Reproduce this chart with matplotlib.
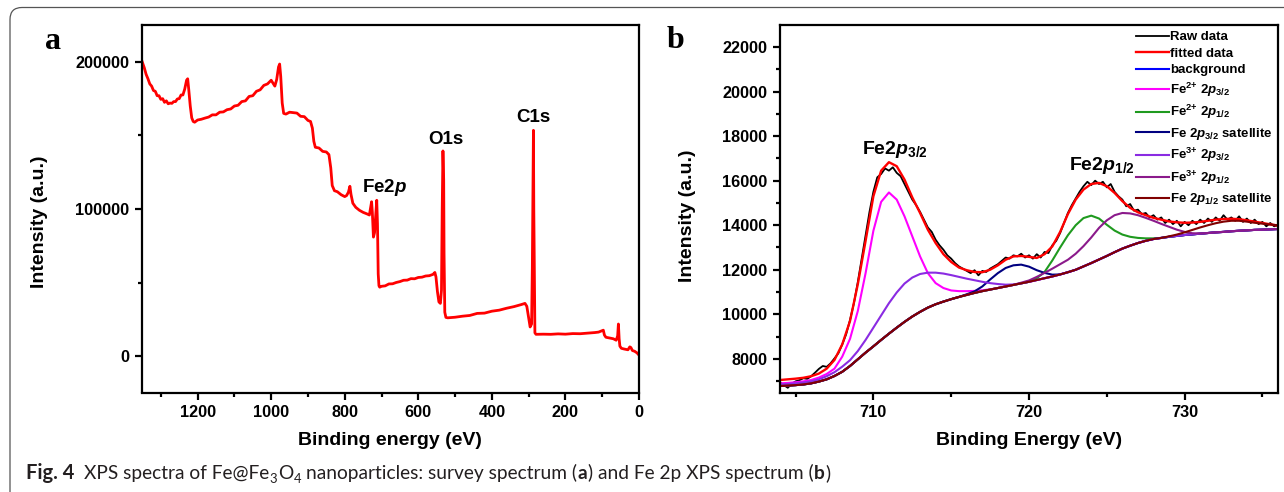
import numpy as np
import matplotlib
matplotlib.use('Agg')
import matplotlib.pyplot as plt
from matplotlib.ticker import MultipleLocator, FuncFormatter, FixedLocator
from matplotlib.patches import FancyBboxPatch

# ---------------- data: panel a (survey spectrum) ----------------
survey_energy = [1352, 1345, 1340, 1335, 1330, 1325, 1320, 1315, 1310, 1305, 1300, 1295, 1290, 1285,
                 1280, 1275, 1270, 1265, 1260, 1255, 1250, 1245, 1240, 1235, 1230, 1227, 1224, 1220,
                 1216, 1212, 1208, 1200, 1190, 1180, 1170, 1160, 1150, 1140, 1130, 1120, 1110, 1100,
                 1090, 1080, 1070, 1060, 1050, 1040, 1030, 1020, 1010, 1000, 995, 990, 985, 980, 977,
                 974, 970, 966, 960, 950, 940, 930, 920, 910, 900, 893, 888, 884, 880, 870, 860, 850,
                 843, 838, 834, 828, 820, 810, 800, 795, 790, 786, 783, 778, 770, 760, 750, 740, 733,
                 729, 727, 725, 722, 719, 716, 713, 711, 709, 707, 705, 700, 690, 680, 670, 660, 650,
                 640, 630, 620, 610, 600, 590, 580, 570, 560, 555, 552, 548, 544, 540, 537, 535, 533,
                 531, 530, 528, 525, 520, 500, 480, 460, 440, 420, 400, 380, 360, 340, 320, 310, 305,
                 300, 296, 292, 290, 288, 287, 286, 284, 283, 280, 260, 240, 220, 200, 180, 160, 140,
                 120, 110, 100, 97, 94, 90, 80, 70, 62, 58, 56, 54, 52, 48, 40, 30, 25, 22, 18, 12, 6,
                 2, 0]
survey_intensity = [201000, 196000, 191500, 188500, 185000, 183500, 180500, 180000, 177000, 177000,
                    174500, 175000, 172500, 173500, 171500, 172000, 171800, 173000, 173000, 174800,
                    175000, 177500, 177500, 181500, 187500, 188500, 181000, 170000, 162000, 159500,
                    159000, 160500, 161000, 161800, 162500, 164000, 164000, 165800, 166000, 167500,
                    168000, 170000, 170500, 173000, 173500, 176500, 177000, 180000, 181000, 184000,
                    185000, 187500, 185500, 183500, 188000, 196500, 198500, 190000, 172000, 165000,
                    164500, 165800, 165500, 165200, 163000, 162800, 160200, 159500, 155000, 146000,
                    142000, 141500, 139200, 138800, 137000, 128000, 116000, 112500, 111800, 109800,
                    108500, 109200, 111500, 115500, 110000, 104000, 101200, 99200, 97800, 96800,
                    96000, 102000, 105000, 98000, 81000, 84000, 95000, 106000, 90000, 56000, 48000,
                    47000, 47600, 47900, 49200, 49300, 50200, 50800, 51700, 51800, 52800, 52700,
                    53600, 53800, 54600, 54800, 55700, 57000, 54000, 44000, 37000, 36000, 45000,
                    100000, 139500, 120000, 70000, 30000, 26500, 26200, 26600, 27300, 27800, 29200,
                    29400, 30700, 31400, 32700, 33800, 35200, 36000, 34000, 26000, 20000, 22000,
                    60000, 120000, 153500, 100000, 40000, 16000, 15000, 15100, 15000, 15300, 15100,
                    15500, 15400, 15800, 16200, 16500, 17500, 17800, 14500, 13000, 12500, 12000,
                    11000, 14000, 22000, 12000, 7000, 5500, 5000, 4500, 6500, 6000, 4000, 3500,
                    2500, 1500, 800]
survey_labels = ['Fe2$\\mathit{p}$', 'O1s', 'C1s']
survey_label_pos = [(754, 111800), (573, 144200), (332.5, 159000)]

# ---------------- data: panel b (Fe 2p spectrum) ----------------
raw_energy = np.arange(704.0, 736.01, 0.25)
raw_intensity = [6950, 6820, 6700, 6880, 6990, 7040, 7130, 7100, 7220, 7380,
                 7550, 7680, 7640, 7800, 8020, 8250, 8650, 9100, 9750, 10500,
                 11450, 12500, 13550, 14600, 15500, 16150, 16300, 16550, 16450, 16600,
                 16350, 16200, 15850, 15500, 15150, 14900, 14600, 14250, 13900, 13700,
                 13350, 13100, 12900, 12650, 12500, 12300, 12150, 12050, 11950, 11850,
                 11980, 11750, 11950, 11900, 12050, 12150, 12250, 12400, 12550, 12500,
                 12650, 12600, 12720, 12550, 12650, 12500, 12700, 12550, 12800, 12750,
                 13100, 13300, 13650, 14100, 14550, 14900, 15200, 15500, 15750, 15950,
                 15800, 16000, 15850, 15950, 15700, 15850, 15500, 15300, 15150, 14850,
                 14950, 14650, 14700, 14500, 14550, 14350, 14450, 14250, 14350, 14100,
                 14250, 14050, 14200, 13950, 14150, 14000, 14200, 14050, 14250, 14100,
                 14300, 14150, 14350, 14200, 14450, 14250, 14350, 14200, 14400, 14150,
                 14300, 14100, 14250, 14050, 14150, 13950, 14100, 13950, 14000]

fit_energy = np.arange(704.0, 736.01, 0.5)
fitted = [7050, 7080, 7110, 7150, 7220, 7340, 7560, 7950, 8650, 9700,
          11350, 13300, 15300, 16450, 16830, 16650, 16050, 15250, 14550, 13800,
          13200, 12700, 12350, 12100, 11980, 11900, 11890, 12000, 12200, 12450,
          12600, 12620, 12580, 12530, 12700, 13050, 13700, 14500, 15150, 15600,
          15850, 15900, 15750, 15450, 15080, 14780, 14580, 14450, 14330, 14250,
          14170, 14130, 14110, 14120, 14150, 14200, 14250, 14280, 14290, 14270,
          14220, 14160, 14100, 14040, 13980]
background = [6780, 6800, 6820, 6850, 6900, 6980, 7080, 7230, 7420, 7680,
              7980, 8280, 8560, 8850, 9130, 9400, 9660, 9900, 10110, 10300,
              10450, 10570, 10680, 10780, 10870, 10960, 11040, 11110, 11180, 11250,
              11320, 11390, 11460, 11540, 11620, 11700, 11790, 11890, 12000, 12150,
              12300, 12460, 12620, 12790, 12950, 13080, 13200, 13300, 13380, 13430,
              13480, 13520, 13560, 13590, 13620, 13650, 13680, 13700, 13730, 13750,
              13770, 13790, 13800, 13815, 13830]
fe2_p32 = [6900, 6920, 6950, 6990, 7050, 7160, 7320, 7560, 8100, 8900,
           10150, 11850, 13750, 15050, 15470, 15150, 14400, 13500, 12600, 11850,
           11400, 11180, 11070, 11040, 11040, 11050, 11080, 11120, 11180, 11250,
           11320, 11390, 11460, 11540, 11620, 11700, 11790, 11890, 12000, 12150,
           12300, 12460, 12620, 12790, 12950, 13080, 13200, 13300, 13380, 13430,
           13480, 13520, 13560, 13590, 13620, 13650, 13680, 13700, 13730, 13750,
           13770, 13790, 13800, 13815, 13830]
fe2_p12 = [6780, 6800, 6820, 6850, 6900, 6980, 7080, 7230, 7420, 7680,
           7980, 8280, 8560, 8850, 9130, 9400, 9660, 9900, 10110, 10300,
           10450, 10570, 10680, 10780, 10870, 10960, 11040, 11110, 11180, 11250,
           11320, 11390, 11460, 11620, 11900, 12420, 13000, 13550, 14000, 14320,
           14430, 14300, 14020, 13760, 13580, 13480, 13430, 13410, 13410, 13430,
           13480, 13520, 13560, 13590, 13620, 13650, 13680, 13700, 13730, 13750,
           13770, 13790, 13800, 13815, 13830]
sat_p32 = [6780, 6800, 6820, 6850, 6900, 6980, 7080, 7230, 7420, 7680,
           7980, 8280, 8560, 8850, 9130, 9400, 9660, 9900, 10110, 10300,
           10450, 10570, 10680, 10780, 10900, 11030, 11250, 11560, 11850, 12080,
           12200, 12230, 12140, 11980, 11860, 11780, 11790, 11890, 12000, 12150,
           12300, 12460, 12620, 12790, 12950, 13080, 13200, 13300, 13380, 13430,
           13480, 13520, 13560, 13590, 13620, 13650, 13680, 13700, 13730, 13750,
           13770, 13790, 13800, 13815, 13830]
fe3_p32 = [6850, 6870, 6900, 6940, 6990, 7080, 7220, 7400, 7650, 7940,
           8350, 8850, 9400, 9950, 10500, 10980, 11380, 11650, 11810, 11870,
           11870, 11830, 11760, 11680, 11600, 11530, 11460, 11400, 11360, 11330,
           11340, 11390, 11460, 11540, 11620, 11700, 11790, 11890, 12000, 12150,
           12300, 12460, 12620, 12790, 12950, 13080, 13200, 13300, 13380, 13430,
           13480, 13520, 13560, 13590, 13620, 13650, 13680, 13700, 13730, 13750,
           13770, 13790, 13800, 13815, 13830]
fe3_p12 = [6780, 6800, 6820, 6850, 6900, 6980, 7080, 7230, 7420, 7680,
           7980, 8280, 8560, 8850, 9130, 9400, 9660, 9900, 10110, 10300,
           10450, 10570, 10680, 10780, 10870, 10960, 11040, 11110, 11180, 11250,
           11320, 11420, 11520, 11680, 11860, 12050, 12250, 12450, 12720, 13060,
           13450, 13880, 14220, 14450, 14550, 14530, 14450, 14330, 14200, 14060,
           13930, 13800, 13700, 13640, 13630, 13650, 13680, 13700, 13730, 13750,
           13770, 13790, 13800, 13815, 13830]
sat_p12 = [6780, 6800, 6820, 6850, 6900, 6980, 7080, 7230, 7420, 7680,
           7980, 8280, 8560, 8850, 9130, 9400, 9660, 9900, 10110, 10300,
           10450, 10570, 10680, 10780, 10870, 10960, 11040, 11110, 11180, 11250,
           11320, 11390, 11460, 11540, 11620, 11700, 11790, 11890, 12000, 12150,
           12300, 12460, 12620, 12790, 12950, 13080, 13200, 13300, 13380, 13430,
           13500, 13580, 13680, 13790, 13900, 14000, 14090, 14160, 14200, 14200,
           14160, 14110, 14070, 14030, 14000]

component_series = [fitted, background, fe2_p32, fe2_p12, sat_p32, fe3_p32, fe3_p12, sat_p12]
component_labels = ['fitted data', 'background',
                    'Fe$^{2{+}}$ 2$\\mathit{p}_{3/2}$', 'Fe$^{2{+}}$ 2$\\mathit{p}_{1/2}$',
                    'Fe 2$\\mathit{p}_{3/2}$ satellite',
                    'Fe$^{3{+}}$ 2$\\mathit{p}_{3/2}$', 'Fe$^{3{+}}$ 2$\\mathit{p}_{1/2}$',
                    'Fe 2$\\mathit{p}_{1/2}$ satellite']
component_colors = ['#ff0000', '#0000ff', '#ff00ff', '#1f9a1f', '#000080',
                    '#8a2be2', '#8b1a8b', '#800000']
peak_labels = ['Fe2$\\mathit{p}_{3/2}$', 'Fe2$\\mathit{p}_{1/2}$']
peak_label_pos = [(709.3, 17217), (722.56, 16497)]

# ---------------- style ----------------
plt.rcParams['font.family'] = ['Liberation Sans', 'DejaVu Sans']
plt.rcParams['font.weight'] = 'bold'
plt.rcParams['axes.labelweight'] = 'bold'
plt.rcParams['mathtext.fontset'] = 'custom'
plt.rcParams['mathtext.rm'] = 'Liberation Sans:bold'
plt.rcParams['mathtext.it'] = 'Liberation Sans:italic:bold'
plt.rcParams['mathtext.bf'] = 'Liberation Sans:bold'
plt.rcParams['mathtext.sf'] = 'Liberation Sans:bold'
plt.rcParams['axes.linewidth'] = 1.6

W, H = 1284, 492
fig = plt.figure(figsize=(W / 100, H / 100), dpi=100)

# outer rounded frame
frame = FancyBboxPatch((0.10, -0.5), 13.6, 4.845 + 0.5,
                       boxstyle='round,pad=0,rounding_size=0.12',
                       transform=fig.dpi_scale_trans, fill=False,
                       edgecolor='#555555', linewidth=0.9)
fig.add_artist(frame)

axa = fig.add_axes([141.7 / W, 1 - 392.5 / H, (639 - 141.7) / W, (392.5 - 25) / H])
axb = fig.add_axes([780 / W, 1 - 392.7 / H, (1278 - 780) / W, (392.7 - 25) / H])

int_fmt = FuncFormatter(lambda v, p: '%d' % int(round(v)))
for ax in (axa, axb):
    ax.tick_params(which='major', direction='out', length=5, width=1.6,
                   labelsize=11.7, pad=4, top=False, right=False)
    ax.tick_params(which='minor', direction='out', length=3, width=1.6,
                   top=False, right=False)
    ax.yaxis.set_major_formatter(int_fmt)
    ax.xaxis.set_major_formatter(int_fmt)

# ---------------- panel a ----------------
axa.plot(survey_energy, survey_intensity, color='#ff0000', lw=2.0, solid_joinstyle='round')
axa.set_xlim(1352, 0)
axa.set_ylim(-24500, 225000)
axa.xaxis.set_major_locator(FixedLocator([1200, 1000, 800, 600, 400, 200, 0]))
axa.xaxis.set_minor_locator(MultipleLocator(100))
axa.yaxis.set_major_locator(FixedLocator([0, 100000, 200000]))
axa.yaxis.set_minor_locator(MultipleLocator(50000))
for lab, (xx, yy) in zip(survey_labels, survey_label_pos):
    axa.text(xx, yy, lab, fontsize=13.5, ha='left', va='baseline')
axa.set_xlabel('Binding energy (eV)', fontsize=14, fontweight='bold')
axa.set_ylabel('Intensity (a.u.)', fontsize=14, fontweight='bold')
axa.xaxis.set_label_coords(0.5, -0.108)
axa.yaxis.set_label_coords(-0.1876, 0.464)

# ---------------- panel b ----------------
axb.plot(raw_energy, raw_intensity, color='black', lw=1.3, label='Raw data')
for ser, lab, col in zip(component_series, component_labels, component_colors):
    axb.plot(fit_energy, ser, color=col, lw=1.7 if lab == 'fitted data' else 1.5, label=lab)
axb.set_xlim(704.0, 736.0)
axb.set_ylim(6480, 22990)
axb.xaxis.set_major_locator(FixedLocator([710, 720, 730]))
axb.xaxis.set_minor_locator(MultipleLocator(5))
axb.yaxis.set_major_locator(MultipleLocator(2000))
axb.yaxis.set_minor_locator(MultipleLocator(1000))
for lab, (xx, yy) in zip(peak_labels, peak_label_pos):
    axb.text(xx, yy, lab, fontsize=14, ha='left', va='baseline')
axb.set_xlabel('Binding Energy (eV)', fontsize=14, fontweight='bold')
axb.set_ylabel('Intensity (a.u.)', fontsize=14, fontweight='bold')
axb.xaxis.set_label_coords(0.5, -0.108)
axb.yaxis.set_label_coords(-0.1687, 0.48)
axb.legend(loc='upper right', frameon=False, fontsize=9.5, handlelength=2.5,
           handletextpad=0.05, labelspacing=0.33, borderaxespad=0.25, borderpad=0.2)

# panel letters
fig.text(45 / W, 1 - 49 / H, 'a', family='Liberation Serif', fontweight='bold',
         fontsize=23, va='baseline', ha='left')
fig.text(667 / W, 1 - 48.5 / H, 'b', family='Liberation Serif', fontweight='bold',
         fontsize=23, va='baseline', ha='left')

# ---------------- caption ----------------
renderer = fig.canvas.get_renderer()
cap_family = ['Lato', 'Open Sans', 'DejaVu Sans']
cap_size = 13.8
cap_base = 479
cap_color = '#231f20'


def measure(s, size, weight):
    t = fig.text(0, 0, s, fontsize=size, fontweight=weight, family=cap_family)
    w = t.get_window_extent(renderer).width
    t.remove()
    return w


space_w = measure('x x', cap_size, 'normal') - measure('xx', cap_size, 'normal')


def put(s, x, size=cap_size, weight='normal', dy=0.0):
    t = fig.text(x / W, 1 - (cap_base + dy) / H, s, fontsize=size, fontweight=weight,
                 family=cap_family, va='baseline', ha='left', color=cap_color)
    return t.get_window_extent(renderer).x1


x = 26
x = put('Fig. 4', x, size=cap_size * 1.05, weight='bold') + 2 * space_w
x = put('XPS spectra of Fe@Fe', x) + 0.5
x = put('3', x, size=cap_size * 0.68, dy=4) + 0.5
x = put('O', x) + 0.5
x = put('4', x, size=cap_size * 0.68, dy=4) + space_w
x = put('nanoparticles: survey spectrum (', x) + 0.5
x = put('a', x, weight='bold') + 0.5
x = put(') and Fe 2p XPS spectrum (', x) + 0.5
x = put('b', x, weight='bold') + 0.5
x = put(')', x)

fig.savefig('out.png', dpi=100)
